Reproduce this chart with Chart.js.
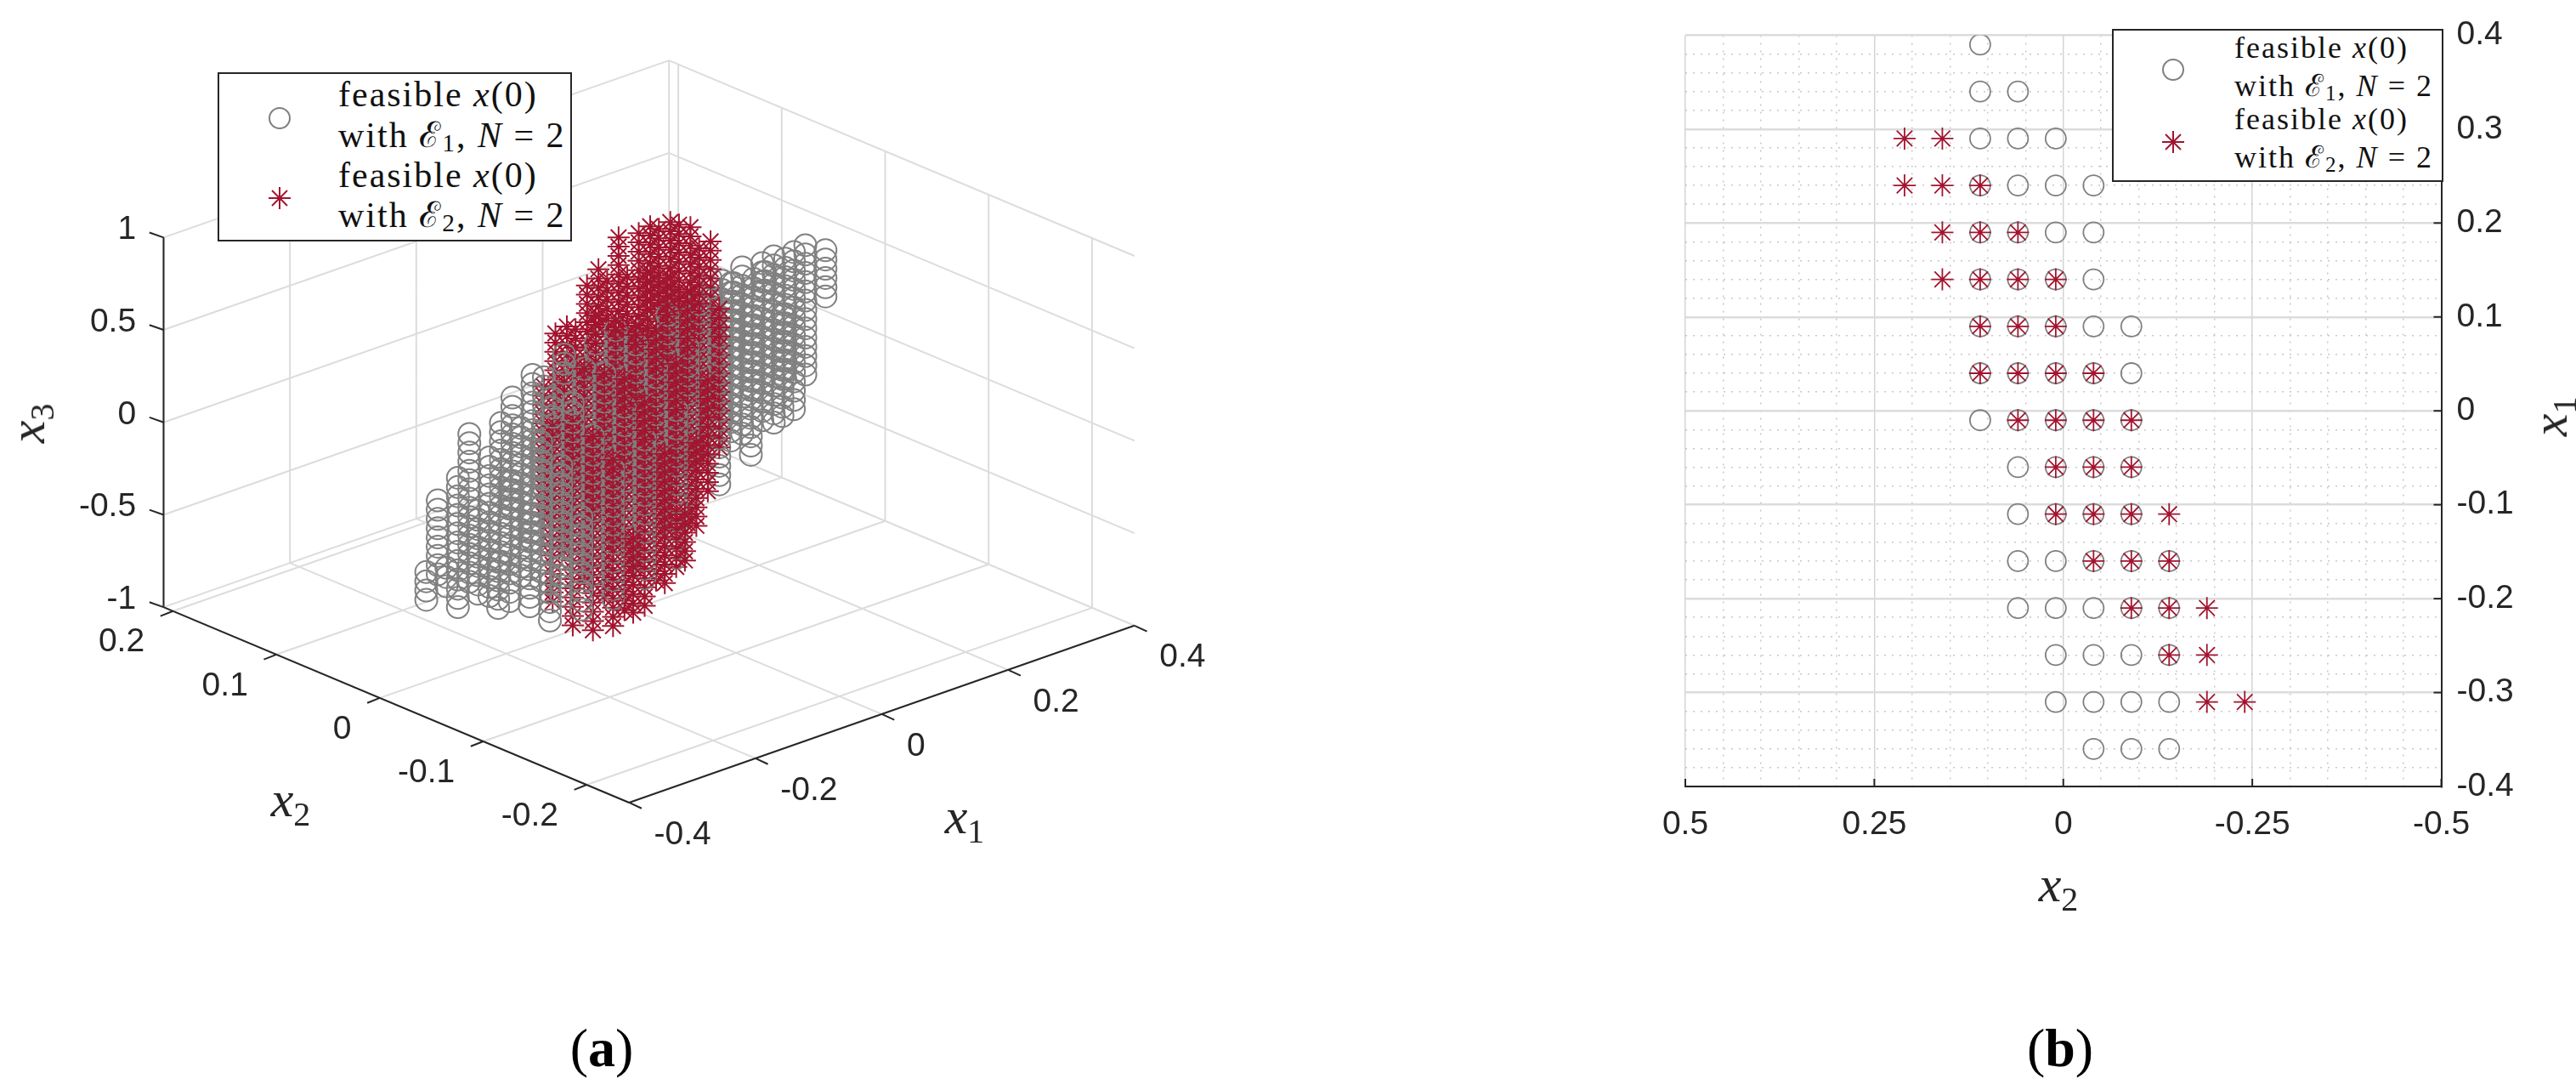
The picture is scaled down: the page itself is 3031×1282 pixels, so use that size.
<!DOCTYPE html>
<html>
<head>
<meta charset="utf-8">
<title>feasible x(0)</title>
<script src="https://cdn.jsdelivr.net/npm/chart.js@4/dist/chart.umd.min.js"></script>
<style>
  html, body { margin: 0; background: #fff; }
  #page { position: relative; width: 3031px; height: 1282px; overflow: hidden; }
  canvas { position: absolute; }
  .math { position: absolute; font-family: "Liberation Serif", serif; color: #262626; white-space: nowrap; line-height: 1; }
  .math i { font-size: 60px; }
  .math sub { font-size: 40px; vertical-align: -11px; line-height: 0; }
  .rot { transform: translate(-50%, -50%) rotate(-90deg); }
  .hor { transform: translate(-50%, -50%); }
  .caption { position: absolute; font-family: "Liberation Serif", serif; font-size: 64px; color: #000; transform: translate(-50%, -50%); line-height: 1; }
  .legend { position: absolute; background: #fff; border: 2px solid #262626; box-sizing: border-box; font-family: "Liberation Serif", serif; color: #111; }
  .legend div { position: absolute; white-space: nowrap; transform: translateY(-50%); line-height: 1; }
  .legend sub { font-size: 70%; vertical-align: -5px; line-height: 0; }
  .legend svg { position: absolute; }
</style>
</head>
<body>
<div id="page">
  <canvas id="cloud" style="left:0;top:0"></canvas>
  <canvas id="top" style="left:1900px;top:0"></canvas>

  <div class="math hor" style="left:342px;top:940px"><i>x</i><sub>2</sub></div>
  <div class="math hor" style="left:1135px;top:960px"><i>x</i><sub>1</sub></div>
  <div class="math rot" style="left:32px;top:498px"><i>x</i><sub>3</sub></div>
  <div class="math hor" style="left:2422px;top:1040px"><i>x</i><sub>2</sub></div>
  <div class="math rot" style="left:3000px;top:490px"><i>x</i><sub>1</sub></div>

  <div class="caption" style="left:708px;top:1233px">(<b>a</b>)</div>
  <div class="caption" style="left:2424px;top:1233px">(<b>b</b>)</div>

  <div class="legend" style="left:256px;top:85px;width:417px;height:199px;font-size:42px;letter-spacing:2px">
    <svg style="left:47px;top:28px" width="48" height="48"><circle cx="24" cy="24" r="12" fill="none" stroke="#808080" stroke-width="2"/></svg>
    <svg style="left:47px;top:122px" width="48" height="48"><g stroke="#A2142F" stroke-width="2"><line x1="24" y1="11" x2="24" y2="37"/><line x1="11" y1="24" x2="37" y2="24"/><line x1="15" y1="15" x2="33" y2="33"/><line x1="15" y1="33" x2="33" y2="15"/></g></svg>
    <div style="left:140px;top:24px">feasible <i>x</i>(0)</div>
    <div style="left:140px;top:72px">with ℰ<sub>1</sub>, <i>N</i> = 2</div>
    <div style="left:140px;top:119px">feasible <i>x</i>(0)</div>
    <div style="left:140px;top:166px">with ℰ<sub>2</sub>, <i>N</i> = 2</div>
  </div>
  <div class="legend" style="left:2485px;top:34px;width:390px;height:180px;font-size:36px;letter-spacing:2px">
    <svg style="left:46px;top:22px" width="48" height="48"><circle cx="24" cy="24" r="12" fill="none" stroke="#808080" stroke-width="2"/></svg>
    <svg style="left:46px;top:107px" width="48" height="48"><g stroke="#A2142F" stroke-width="2"><line x1="24" y1="11" x2="24" y2="37"/><line x1="11" y1="24" x2="37" y2="24"/><line x1="15" y1="15" x2="33" y2="33"/><line x1="15" y1="33" x2="33" y2="15"/></g></svg>
    <div style="left:142px;top:20px">feasible <i>x</i>(0)</div>
    <div style="left:142px;top:65px">with ℰ<sub>1</sub>, <i>N</i> = 2</div>
    <div style="left:142px;top:104px">feasible <i>x</i>(0)</div>
    <div style="left:142px;top:149px">with ℰ<sub>2</sub>, <i>N</i> = 2</div>
  </div>
</div>

<script>
// -------------------------
// Data
// -------------------------
const x1Rows = [0.39, 0.34, 0.29, 0.24, 0.19, 0.14, 0.09, 0.04, -0.01, -0.06, -0.11, -0.16, -0.21, -0.26, -0.31, -0.36];
const x2Cols = [0.21, 0.16, 0.11, 0.06, 0.01, -0.04, -0.09, -0.14, -0.19, -0.24];
const zLevels = [-1, -0.95, -0.9, -0.85, -0.8, -0.75, -0.7, -0.65, -0.6, -0.55, -0.5, -0.45, -0.4, -0.35, -0.3, -0.25, -0.2, -0.15, -0.1, -0.05, 0,
  0.05, 0.1, 0.15, 0.2, 0.25, 0.3, 0.35, 0.4, 0.45, 0.5, 0.55, 0.6, 0.65, 0.7, 0.75, 0.8, 0.85, 0.9, 0.95, 1];

// per x1 row: which x2 columns hold a feasible point
const e1Cols = [[2], [2, 3], [2, 3, 4], [2, 3, 4, 5], [2, 3, 4, 5], [2, 3, 4, 5], [2, 3, 4, 5, 6], [2, 3, 4, 5, 6], [2, 3, 4, 5, 6],
  [3, 4, 5, 6], [3, 4, 5, 6], [3, 4, 5, 6, 7], [3, 4, 5, 6, 7], [4, 5, 6, 7], [4, 5, 6, 7], [5, 6, 7]];
const e2Cols = [[], [], [0, 1], [0, 1, 2], [1, 2, 3], [1, 2, 3, 4], [2, 3, 4], [2, 3, 4, 5], [3, 4, 5, 6],
  [4, 5, 6], [4, 5, 6, 7], [5, 6, 7], [6, 7, 8], [7, 8], [8, 9], []];

// per cell: lowest and highest x3 of the column of markers
const e1ZLow = [[0], [-0.25, -0.3], [-0.35, -0.3, -0.1], [-0.4, -0.4, -0.3, 0.5], [-0.45, -0.45, -0.3, -0.05], [-0.55, -0.5, -0.3, -0.05],
  [-0.6, -0.55, -0.35, -0.1, 0.15], [-0.65, -0.6, -0.4, -0.15, 0], [-0.7, -0.65, -0.45, -0.2, -0.1], [-0.7, -0.5, -0.3, -0.15],
  [-0.75, -0.6, -0.35, -0.2], [-0.8, -0.65, -0.45, -0.3, -0.2], [-0.7, -0.7, -0.5, -0.35, -0.25], [-0.7, -0.55, -0.4, -0.3],
  [-0.6, -0.45, -0.4, -0.3], [-0.35, -0.35, -0.3]];
const e1ZHigh = [[0.1], [0.1, 0.35], [0.15, 0.3, 0.6], [0.15, 0.35, 0.6, 0.75], [0.05, 0.25, 0.6, 0.8], [0.05, 0.25, 0.6, 0.8],
  [0, 0.2, 0.55, 0.75, 0.7], [-0.05, 0.25, 0.45, 0.7, 0.75], [-0.1, 0.25, 0.5, 0.7, 0.7], [0.2, 0.35, 0.6, 0.7],
  [0, 0.25, 0.5, 0.65], [0, 0.15, 0.4, 0.5, 0.6], [-0.3, 0.05, 0.25, 0.4, 0.5], [0, 0.1, 0.3, 0.4],
  [-0.45, 0, 0.1, 0.2], [-0.25, -0.1, -0.05]];
const e2ZLow = [[], [], [-0.3, -0.1], [-0.5, -0.35, -0.15], [-0.35, -0.4, -0.2], [-0.6, -0.55, -0.4, -0.1], [-0.65, -0.55, -0.35],
  [-0.8, -0.65, -0.5, -0.15], [-0.8, -0.65, -0.45, 0.1], [-0.8, -0.6, -0.25], [-0.85, -0.7, -0.5, 0.1], [-0.8, -0.6, -0.25],
  [-0.65, -0.4, 0.15], [-0.45, -0.1], [-0.2, 0.2], []];
const e2ZHigh = [[], [], [0, 0.35], [-0.25, 0.35, 0.55], [0.15, 0.55, 0.7], [-0.05, 0.35, 0.75, 0.8], [0.15, 0.55, 0.95],
  [-0.1, 0.4, 0.75, 1], [0.1, 0.55, 0.9, 0.85], [0.35, 0.7, 1], [0.1, 0.5, 0.85, 0.7], [0.3, 0.65, 0.85],
  [0.4, 0.7, 0.6], [0.45, 0.6], [0.2, 0.45], []];

const x1Ticks3d = [-0.4, -0.2, 0, 0.2, 0.4];
const x2Ticks3d = [0.2, 0.1, 0, -0.1, -0.2];
const x3Ticks3d = [-1, -0.5, 0, 0.5, 1];
const x1TickLabels3d = ["-0.4", "-0.2", "0", "0.2", "0.4"];
const x2TickLabels3d = ["0.2", "0.1", "0", "-0.1", "-0.2"];
const x3TickLabels3d = ["-1", "-0.5", "0", "0.5", "1"];

const x2TickLabels = ["0.5", "0.25", "0", "-0.25", "-0.5"];
const x2TickValues = [0.5, 0.25, 0, -0.25, -0.5];
const x1TickLabels = ["0.4", "0.3", "0.2", "0.1", "0", "-0.1", "-0.2", "-0.3", "-0.4"];
const x1TickValues = [0.4, 0.3, 0.2, 0.1, 0, -0.1, -0.2, -0.3, -0.4];

const GRAY = "#808080";
const RED = "#A2142F";
const FONT = '"Liberation Sans", Arial, sans-serif';

Chart.defaults.animation = false;
Chart.defaults.responsive = false;
Chart.defaults.plugins.legend.display = false;
Chart.defaults.plugins.tooltip.enabled = false;

// -------------------------
// Helpers
// -------------------------
function makeCells(cols, low, high, series) {
  const out = [];
  cols.forEach((row, r) => row.forEach((c, k) => {
    zLevels.forEach(z => {
      if (z >= low[r][k] - 1e-6 && z <= high[r][k] + 1e-6) out.push({ a: x1Rows[r], b: x2Cols[c], z, series });
    });
  }));
  return out;
}

// MATLAB style oblique view of the box, in page pixels
const X1_MIN = -0.4, X1_MAX = 0.4, X2_MIN = -0.241, X2_MAX = 0.209, Z_MIN = -1, Z_MAX = 1;
function project(a, b, z) {
  return {
    x: 740 + (a - X1_MIN) * 758.5 - (b - X2_MIN) * 1242,
    y: 955 - (a - X1_MIN) * 267.5 - (b - X2_MIN) * 525 - (z - Z_MIN) * 223.5
  };
}

function segs(list) {
  const pts = [];
  list.forEach(([p, q]) => {
    pts.push(project(...p), project(...q), { x: null, y: null });
  });
  return pts;
}

function lineSet(data, color, width, order) {
  return { type: "scatter", data, showLine: true, borderColor: color, borderWidth: width, pointRadius: 0, spanGaps: false, order };
}

// -------------------------
// (a) 3D view
// -------------------------
const gridSegs = [];
x3Ticks3d.forEach(z => {
  gridSegs.push([[X1_MIN, X2_MAX, z], [X1_MAX, X2_MAX, z]]);
  gridSegs.push([[X1_MAX, X2_MAX, z], [X1_MAX, X2_MIN, z]]);
});
x1Ticks3d.forEach(a => {
  gridSegs.push([[a, X2_MIN, Z_MIN], [a, X2_MAX, Z_MIN]]);
  gridSegs.push([[a, X2_MAX, Z_MIN], [a, X2_MAX, Z_MAX]]);
});
x2Ticks3d.forEach(b => {
  gridSegs.push([[X1_MIN, b, Z_MIN], [X1_MAX, b, Z_MIN]]);
  gridSegs.push([[X1_MAX, b, Z_MIN], [X1_MAX, b, Z_MAX]]);
});
const axisSegs = [
  [[X1_MIN, X2_MAX, Z_MIN], [X1_MIN, X2_MAX, Z_MAX]],
  [[X1_MIN, X2_MAX, Z_MIN], [X1_MIN, X2_MIN, Z_MIN]],
  [[X1_MIN, X2_MIN, Z_MIN], [X1_MAX, X2_MIN, Z_MIN]]
];

// nearer markers go on top, depth along the camera direction of this view
const cloud = makeCells(e1Cols, e1ZLow, e1ZHigh, "e1").concat(makeCells(e2Cols, e2ZLow, e2ZHigh, "e2"))
  .map(p => Object.assign(p, project(p.a, p.b, p.z), { depth: p.z - 6.83 * p.a - 13.4 * p.b }))
  .sort((p, q) => p.depth - q.depth);

// short tick marks and tick text, placed through the chart's own scales
const ticks3d = {
  id: "ticks3d",
  afterDatasetsDraw(chart) {
    const { ctx, scales } = chart;
    const at = (p, dx, dy) => [scales.x.getPixelForValue(p.x + dx), scales.y.getPixelForValue(p.y + dy)];
    ctx.save();
    ctx.strokeStyle = "#262626";
    ctx.lineWidth = 2;
    ctx.fillStyle = "#262626";
    ctx.font = "39px " + FONT;
    ctx.textBaseline = "middle";
    function mark(p, dx, dy) {
      ctx.beginPath();
      ctx.moveTo(...at(p, 0, 0));
      ctx.lineTo(...at(p, dx, dy));
      ctx.stroke();
    }
    x3Ticks3d.forEach((z, i) => {
      const p = project(X1_MIN, X2_MAX, z);
      mark(p, -17, -6);
      ctx.textAlign = "right";
      ctx.fillText(x3TickLabels3d[i], ...at(p, -33, -9));
    });
    x2Ticks3d.forEach((b, i) => {
      const p = project(X1_MIN, b, Z_MIN);
      mark(p, -15, 6);
      ctx.textAlign = "right";
      ctx.fillText(x2TickLabels3d[i], ...at(p, -34, 38));
    });
    x1Ticks3d.forEach((a, i) => {
      const p = project(a, X2_MIN, Z_MIN);
      mark(p, 15, 7);
      ctx.textAlign = "left";
      ctx.fillText(x1TickLabels3d[i], ...at(p, 30, 39));
    });
    ctx.restore();
  }
};

const cloudCanvas = document.getElementById("cloud");
cloudCanvas.width = 1500;
cloudCanvas.height = 1100;
new Chart(cloudCanvas, {
  type: "scatter",
  data: {
    datasets: [
      lineSet(segs(gridSegs), "#dcdcdc", 2, 3),
      lineSet(segs(axisSegs), "#262626", 2, 2),
      {
        label: "feasible x(0)",
        data: cloud,
        order: 1,
        pointRadius: 13,
        pointBorderWidth: 2,
        pointStyle: c => c.raw.series === "e1" ? "circle" : "star",
        pointBorderColor: c => c.raw.series === "e1" ? GRAY : RED,
        pointBackgroundColor: "rgba(0,0,0,0)",
        clip: false
      }
    ]
  },
  options: {
    layout: { padding: 0 },
    scales: {
      x: { type: "linear", display: false, min: 0, max: 1500 },
      y: { type: "linear", display: false, min: 0, max: 1100, reverse: true }
    }
  },
  plugins: [ticks3d]
});

// -------------------------
// (b) view from above
// -------------------------
const near = (v, list) => list.findIndex(t => Math.abs(t - v) < 1e-6);

const topTicks = {
  id: "topTicks",
  afterDatasetsDraw(chart) {
    const { ctx, scales: { x, y } } = chart;
    ctx.save();
    ctx.strokeStyle = "#262626";
    ctx.lineWidth = 2;
    x2TickValues.forEach(v => {
      ctx.beginPath();
      ctx.moveTo(x.getPixelForValue(v), y.bottom);
      ctx.lineTo(x.getPixelForValue(v), y.bottom - 9);
      ctx.stroke();
    });
    x1TickValues.forEach(v => {
      ctx.beginPath();
      ctx.moveTo(x.right, y.getPixelForValue(v));
      ctx.lineTo(x.right - 9, y.getPixelForValue(v));
      ctx.stroke();
    });
    ctx.restore();
  }
};

function topPoints(cols) {
  const out = [];
  cols.forEach((row, r) => row.forEach(c => out.push({ x: x2Cols[c], y: x1Rows[r] })));
  return out;
}

const topCanvas = document.getElementById("top");
topCanvas.width = 1131;
topCanvas.height = 1100;
new Chart(topCanvas, {
  type: "scatter",
  data: {
    datasets: [
      { label: "feasible x(0) with E1, N = 2", order: 2, data: topPoints(e1Cols), pointStyle: "circle", pointRadius: 12, pointBorderWidth: 1.8, pointBorderColor: GRAY, pointBackgroundColor: "rgba(0,0,0,0)" },
      { label: "feasible x(0) with E2, N = 2", order: 1, data: topPoints(e2Cols), pointStyle: "star", pointRadius: 13, pointBorderWidth: 1.8, pointBorderColor: RED, pointBackgroundColor: "rgba(0,0,0,0)" }
    ]
  },
  options: {
    layout: { padding: { left: 83, top: 34, right: 0, bottom: 0 } },
    scales: {
      x: {
        type: "linear", reverse: true, min: -0.5, max: 0.5,
        afterFit: s => { s.height = 175; },
        ticks: {
          stepSize: 0.05, autoSkip: false, maxRotation: 0, padding: 22,
          color: "#262626", font: { family: FONT, size: 39 },
          callback: v => { const i = near(v, x2TickValues); return i < 0 ? "" : x2TickLabels[i]; }
        },
        grid: {
          drawTicks: false, tickLength: 0,
          color: c => near(c.tick.value, x2TickValues) >= 0 ? "#d4d4d4" : "#c8c8c8",
          lineWidth: 1.5
        },
        border: {
          color: "#262626", width: 2,
          dash: c => near(c.tick.value, x2TickValues) >= 0 ? [] : [2, 7]
        }
      },
      y: {
        type: "linear", position: "right", min: -0.4, max: 0.4,
        afterFit: s => { s.width = 158.5; },
        ticks: {
          stepSize: 0.02, autoSkip: false, padding: 18, align: "center", crossAlign: "near",
          color: "#262626", font: { family: FONT, size: 39 },
          callback: v => { const i = near(v, x1TickValues); return i < 0 ? "" : x1TickLabels[i]; }
        },
        grid: {
          drawTicks: false, tickLength: 0,
          color: c => near(c.tick.value, x1TickValues) >= 0 ? "#dcdcdc" : "#c8c8c8",
          lineWidth: c => near(c.tick.value, x1TickValues) >= 0 ? 2.5 : 1.5
        },
        border: {
          color: "#262626", width: 2,
          dash: c => near(c.tick.value, x1TickValues) >= 0 ? [] : [2, 7]
        }
      }
    }
  },
  plugins: [topTicks]
});
</script>
</body>
</html>
